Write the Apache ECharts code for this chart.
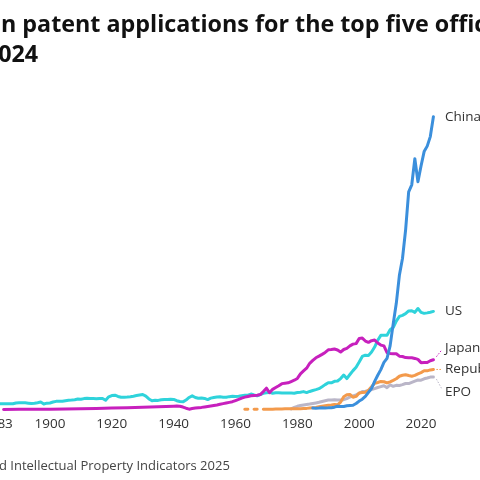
<!DOCTYPE html>
<html>
<head>
<meta charset="utf-8">
<script src="https://cdn.jsdelivr.net/npm/echarts@6.0.0/dist/echarts.min.js"></script>
<style>
  html, body { margin: 0; padding: 0; background: #fff; }
  #main { width: 480px; height: 480px; }
</style>
</head>
<body>
<div id="main"></div>
<script>
// data (thousands of applications)
var tickYears = [1883, 1900, 1920, 1940, 1960, 1980, 2000, 2020];

var usYears = [];
for (var y = 1883; y <= 2024; y++) usYears.push(y);
var usValues = [35, 36, 36, 35, 35, 35, 40, 41, 41, 41, 39, 37, 39, 42, 46, 34, 39,
  40, 46, 50, 50, 51, 54, 57, 58, 60, 64, 63, 67, 69, 68, 67, 66, 68, 68, 57, 78,
  86, 88, 80, 75, 76, 77, 79, 82, 86, 89, 92, 82, 65, 54, 57, 56, 60, 62, 62, 63,
  62, 54, 49, 47, 58, 74, 84, 74, 69, 71, 68, 61, 70, 74, 77, 78, 76, 75, 79, 81,
  80, 82, 85, 87, 88, 95, 89, 84, 92, 99, 103, 105, 100, 103, 103, 101, 102, 101, 101, 100,
  104, 106, 110, 104, 111, 117, 122, 128, 140, 153, 165, 164, 173, 175, 190, 212, 190, 215, 239, 260,
  292, 326, 334, 332, 353, 384, 426, 456, 456, 456, 490, 504, 543, 572, 579, 589, 606, 607, 597, 621,
  597, 591, 594, 598, 603];

var jpYears = [1885, 1890, 1895, 1900, 1905, 1910, 1915, 1920, 1925, 1930, 1935, 1940,
  1941, 1942, 1943, 1944, 1945, 1946, 1947, 1948, 1949, 1950, 1951, 1952, 1953, 1954,
  1955, 1956, 1957, 1958, 1959, 1960, 1961, 1962, 1963, 1964, 1965, 1966, 1967, 1968,
  1969, 1970, 1971, 1972, 1973, 1974, 1975, 1976, 1977, 1978, 1979, 1980, 1981, 1982,
  1983, 1984, 1985, 1986, 1987, 1988, 1989, 1990, 1991, 1992, 1993, 1994, 1995, 1996,
  1997, 1998, 1999, 2000, 2001, 2002, 2003, 2004, 2005, 2006, 2007, 2008, 2009, 2010,
  2011, 2012, 2013, 2014, 2015, 2016, 2017, 2018, 2019, 2020, 2021, 2022, 2023, 2024];
var jpValues = [0.4, 1.3, 1.0, 2.0, 3.5, 5, 6.5, 9, 11, 14, 17, 20,
  21, 20, 15, 8, 2, 6, 9, 11, 13, 16, 19, 22, 25, 28,
  32, 36, 40, 44, 48, 55, 62, 70, 76, 80, 84, 86, 88, 92,
  110, 131, 103, 124, 135, 146, 159, 162, 164, 172, 180, 191, 219, 237,
  254, 284, 302, 318, 328, 339, 351, 367, 369, 372, 366, 353, 369, 376,
  391, 402, 405, 437, 439, 421, 413, 423, 427, 409, 396, 391, 349, 345,
  343, 343, 328, 326, 319, 318, 318, 314, 308, 288, 289, 289, 300, 306];

var krYears = [1963, 1964, 1965, 1966, 1967, 1968, 1969, 1970, 1971, 1972, 1973, 1974,
  1975, 1976, 1977, 1978, 1979, 1980, 1981, 1982, 1983, 1984, 1985, 1986, 1987, 1988,
  1989, 1990, 1991, 1992, 1993, 1994, 1995, 1996, 1997, 1998, 1999, 2000, 2001, 2002,
  2003, 2004, 2005, 2006, 2007, 2008, 2009, 2010, 2011, 2012, 2013, 2014, 2015, 2016,
  2017, 2018, 2019, 2020, 2021, 2022, 2023, 2024];
var krValues = [1.0, 1.1, null, 1.2, 1.3, null, 1.6, 1.8, 1.9, 2.0, 2.6, 3.2,
  3.6, 4.1, 4.3, 5.0, 4.8, 5.1, 5.3, 5.9, 6.9, 8.6, 10.6, 12.8, 17.1, 20.0,
  23.3, 25.8, 28.1, 31.1, 28.6, 45.7, 78.5, 90.3, 92.7, 75.2, 80.6, 102.0, 104.6, 106.1,
  118.7, 140.1, 160.9, 166.2, 172.5, 170.6, 163.5, 170.1, 178.9, 188.9, 204.6, 210.3, 213.7, 208.8,
  204.8, 209.9, 219.0, 226.8, 237.9, 237.6, 243.3, 246.2];

var epoYears = [];
for (var y = 1978; y <= 2024; y++) epoYears.push(y);
var epoValues = [3.6, 12.5, 19.8, 24.6, 28.0, 30.5, 33.4, 37.2, 40.5, 44.2, 49.0, 54.0,
  58.1, 59.0, 60.0, 58.5, 59.0, 60.6, 67.0, 77.0, 84.0, 90.0, 100.0, 110.0, 112.0, 116.0,
  123.0, 128.7, 135.2, 140.8, 146.2, 134.5, 150.9, 142.8, 148.6, 147.9, 152.7, 160.0, 159.1,
  166.6, 174.5, 181.4, 180.3, 188.8, 193.6, 199.3, 199.4];

var cnYears = [];
for (var y = 1985; y <= 2024; y++) cnYears.push(y);
var cnValues = [8.6, 8.0, 8.8, 10.5, 9.9, 10.1, 11.4, 14.4, 19.6, 19.1, 18.7, 23.0, 24.8,
  26.0, 36.7, 51.7, 63.2, 80.2, 105.3, 130.4, 173.3, 210.5, 245.2, 289.8, 314.6, 391.2,
  526.4, 652.8, 825.1, 928.2, 1101.9, 1338.5, 1381.6, 1542.0, 1400.7, 1497.2, 1585.7,
  1619.3, 1677.9, 1800];

var offices = [
  { name: 'EPO', years: epoYears, values: epoValues, color: '#bab6c8', dy: 15 },
  { name: 'Republic of Korea', years: krYears, values: krValues, color: '#f39a4c', dy: 0 },
  { name: 'US', years: usYears, values: usValues, color: '#2fd3db', dy: 0 },
  { name: 'Japan', years: jpYears, values: jpValues, color: '#c720bd', dy: -12 },
  { name: 'China', years: cnYears, values: cnValues, color: '#3b8fdc', dy: 0 }
];

function pairs(xs, vs) {
  var out = [];
  for (var i = 0; i < xs.length; i++) out.push([xs[i], vs[i]]);
  return out;
}

var chart = echarts.init(document.getElementById('main'));

var series = offices.map(function (o) {
  return {
    name: o.name,
    type: 'line',
    data: pairs(o.years, o.values),
    showSymbol: false,
    connectNulls: false,
    lineStyle: { color: o.color, width: 3, cap: 'round', join: 'round' },
    itemStyle: { color: o.color },
    silent: true
  };
});

chart.setOption({
  animation: false,
  grid: { left: -2.6, right: 46.6, top: 84.2, bottom: 70.5, outerBoundsMode: 'none' },
  xAxis: {
    type: 'value',
    min: 1883,
    max: 2024,
    axisLine: { show: false },
    axisTick: { show: false },
    splitLine: { show: false },
    axisLabel: {
      customValues: tickYears,
      formatter: function (v) { return String(v); },
      color: '#333',
      fontFamily: 'Open Sans',
      fontSize: 13.5,
      margin: 8
    }
  },
  yAxis: {
    type: 'value',
    min: 0,
    max: 2000,
    show: false,
    splitLine: { show: false }
  },
  series: series
});

// texts cut at the left edge, as in the original picture
var ctx = document.createElement('canvas').getContext('2d');
function textWidth(str, font) {
  ctx.font = font;
  return ctx.measureText(str).width;
}
var titleFont = 'bold 23.3px "Open Sans"';
var sourceFont = '13px "Open Sans"';
var titleX = -textWidth('Trend i', titleFont) + 1;
var sourceX = -textWidth('Source: WIPO, Worl', sourceFont) - 1;

var graphics = [
  { type: 'text', x: titleX, y: 25.5, style: { text: 'Trend in patent applications for the top five offices,', font: titleFont, fill: '#111', verticalAlign: 'middle' } },
  { type: 'text', x: titleX, y: 55, style: { text: '1883–2024', font: titleFont, fill: '#111', verticalAlign: 'middle' } },
  { type: 'text', x: sourceX, y: 466, style: { text: 'Source: WIPO, World Intellectual Property Indicators 2025', font: sourceFont, fill: '#444', verticalAlign: 'middle' } }
];

// end labels with leader lines
offices.forEach(function (o) {
  var n = o.years.length - 1;
  var p = chart.convertToPixel({ gridIndex: 0 }, [o.years[n], o.values[n]]);
  graphics.push({
    type: 'text', x: p[0] + 11.6, y: p[1] + o.dy,
    style: { text: o.name, font: '13.5px "Open Sans"', fill: '#333', verticalAlign: 'middle' }
  });
  if (o.dy !== 0 || o.name === 'Republic of Korea') {
    var y2 = o.dy < 0 ? p[1] + o.dy + 2 : (o.dy > 0 ? p[1] + o.dy - 3 : p[1]);
    var y1 = o.dy < 0 ? p[1] - 3 : (o.dy > 0 ? p[1] + 2 : p[1]);
    graphics.push({
      type: 'line',
      shape: { x1: p[0] + 3, y1: y1, x2: p[0] + 8.5, y2: y2 },
      style: { stroke: o.color, lineWidth: 1, lineDash: [1.5, 1.5] }
    });
  }
});

chart.setOption({ graphic: graphics });
</script>
</body>
</html>
